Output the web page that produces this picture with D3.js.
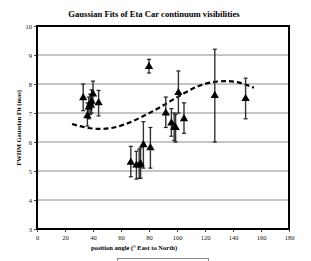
<!DOCTYPE html>
<html>
<head>
<meta charset="utf-8">
<script src="https://cdn.jsdelivr.net/npm/d3@7"></script>
<style>
  body { margin: 0; background: #fff; }
  text { font-family: "Liberation Serif", "Times New Roman", serif; }
</style>
</head>
<body>
<div id="chart"></div>
<script>
// measured points: position angle, FWHM, error bar low / high
const angles = [33, 36, 37, 38, 39, 40, 44, 80, 67, 71, 73, 74, 76, 81, 92, 96, 98, 99, 101, 105, 127, 149];
const fwhm   = [7.52, 6.9, 7.2, 7.3, 7.4, 7.65, 7.35, 8.6, 5.3, 5.2, 5.2, 5.25, 5.9, 5.8, 7.0, 6.65, 6.5, 6.5, 7.7, 6.8, 7.6, 7.5];
const errLo  = [7.08, 6.55, 6.8, 6.95, 7.0, 7.2, 6.9, 8.38, 4.8, 4.72, 4.75, 4.75, 5.1, 5.1, 6.5, 6.2, 6.05, 6.0, 7.0, 6.3, 6.0, 6.8];
const errHi  = [8.0, 7.35, 7.55, 7.65, 7.8, 8.1, 7.78, 8.85, 5.85, 5.68, 5.75, 5.8, 6.7, 6.5, 7.55, 7.15, 7.0, 6.95, 8.45, 7.35, 9.2, 8.2];

// fitted curve
const fitX = [25, 35, 45, 55, 65, 75, 85, 95, 105, 115, 125, 135, 145, 155];
const fitY = [6.62, 6.5, 6.45, 6.5, 6.65, 6.87, 7.12, 7.4, 7.68, 7.92, 8.06, 8.1, 8.04, 7.87];

const xTicks = [0, 20, 40, 60, 80, 100, 120, 140, 160, 180];
const yTicks = [3, 4, 5, 6, 7, 8, 9, 10];

const svg = d3.select("#chart").append("svg")
    .attr("width", 311)
    .attr("height", 261);

const plotLeft = 37, plotRight = 289, plotTop = 26, plotBottom = 229;

const x = d3.scaleLinear().domain([0, 180]).range([plotLeft, plotRight]);
const y = d3.scaleLinear().domain([3, 10]).range([plotBottom, plotTop]);

// title
svg.append("text")
    .attr("x", 154).attr("y", 17)
    .attr("text-anchor", "middle")
    .attr("font-size", 8.6).attr("font-weight", "bold")
    .text("Gaussian Fits of Eta Car continuum visibilities");

// gridlines
svg.append("g")
    .selectAll("line")
    .data(yTicks.slice(1, -1))
    .enter().append("line")
    .attr("x1", plotLeft).attr("x2", plotRight)
    .attr("y1", d => y(d)).attr("y2", d => y(d))
    .attr("stroke", "#8c8c8c").attr("stroke-width", 1);

// axes
const yAxis = svg.append("g")
    .attr("transform", `translate(${plotLeft},0)`)
    .call(d3.axisLeft(y).tickValues(yTicks).tickSize(3).tickPadding(2).tickFormat(d3.format("d")));
const xAxis = svg.append("g")
    .attr("transform", `translate(0,${plotBottom})`)
    .call(d3.axisBottom(x).tickValues(xTicks).tickSize(3).tickPadding(3).tickFormat(d3.format("d")));

[xAxis, yAxis].forEach(a => {
    a.select(".domain").remove();
    a.selectAll("text").attr("font-size", 6.5).attr("fill", "#111")
        .style("font-family", "'Liberation Serif', serif");
    a.selectAll("line").attr("stroke", "#444");
});

// frame
svg.append("rect")
    .attr("x", plotLeft).attr("y", plotTop)
    .attr("width", plotRight - plotLeft).attr("height", plotBottom - plotTop)
    .attr("fill", "none").attr("stroke", "#000").attr("stroke-width", 2);

// axis titles
svg.append("text")
    .attr("transform", `translate(21,128) rotate(-90)`)
    .attr("text-anchor", "middle")
    .attr("font-size", 6.5).attr("font-weight", "bold")
    .text("FWHM Gaussian Fit (mas)");

svg.append("text")
    .attr("x", 134).attr("y", 250)
    .attr("text-anchor", "middle")
    .attr("font-size", 6.5).attr("font-weight", "bold")
    .text("position angle (\u00b0 East to North)");

// legend box (cut off at the bottom)
svg.append("rect")
    .attr("x", 117.5).attr("y", 258.5)
    .attr("width", 91).attr("height", 10)
    .attr("fill", "#fff").attr("stroke", "#888").attr("stroke-width", 1);

// fitted curve
const line = d3.line()
    .x((d, i) => x(fitX[i]))
    .y(d => y(d))
    .curve(d3.curveMonotoneX);

svg.append("path")
    .datum(fitY)
    .attr("d", line)
    .attr("fill", "none")
    .attr("stroke", "#000")
    .attr("stroke-width", 2.2)
    .attr("stroke-dasharray", "5,3");

// error bars
const eb = svg.append("g").selectAll("g")
    .data(angles)
    .enter().append("g");

eb.append("line")
    .attr("x1", d => x(d)).attr("x2", d => x(d))
    .attr("y1", (d, i) => y(errLo[i])).attr("y2", (d, i) => y(errHi[i]))
    .attr("stroke", "#333").attr("stroke-width", 1.4);
eb.append("line")
    .attr("x1", d => x(d) - 2).attr("x2", d => x(d) + 2)
    .attr("y1", (d, i) => y(errHi[i])).attr("y2", (d, i) => y(errHi[i]))
    .attr("stroke", "#222").attr("stroke-width", 1.2);
eb.append("line")
    .attr("x1", d => x(d) - 2).attr("x2", d => x(d) + 2)
    .attr("y1", (d, i) => y(errLo[i])).attr("y2", (d, i) => y(errLo[i]))
    .attr("stroke", "#222").attr("stroke-width", 1.2);

// triangle markers
const tri = d3.symbol().type(d3.symbolTriangle).size(30);
svg.append("g").selectAll("path")
    .data(angles)
    .enter().append("path")
    .attr("d", tri)
    .attr("transform", (d, i) => `translate(${x(d)},${y(fwhm[i])})`)
    .attr("fill", "#000");
</script>
</body>
</html>
